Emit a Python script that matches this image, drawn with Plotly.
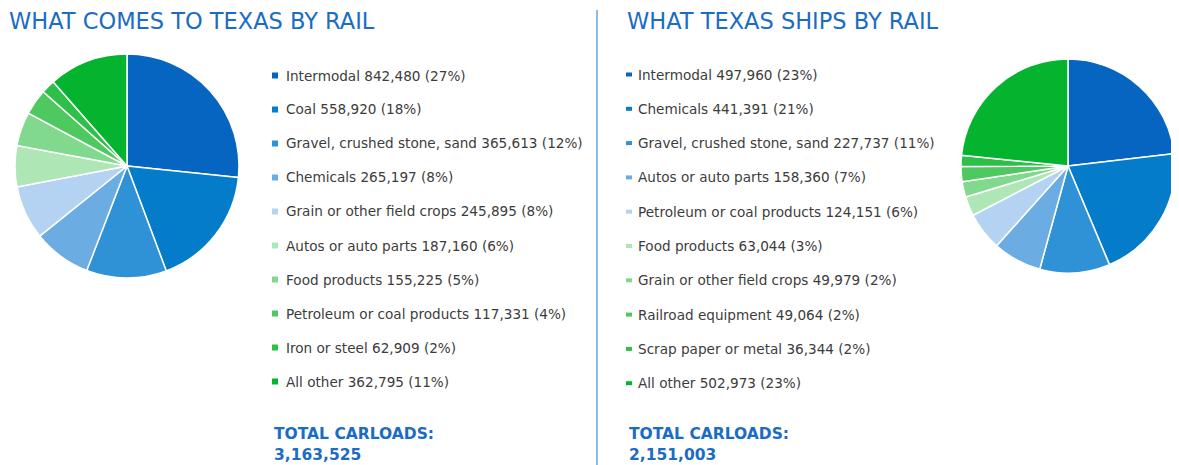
import plotly.graph_objects as go

# page body has an 8px default margin; work in reference pixels and offset
OX, OY = 8, 8
W, H = 1179 - OX, 465 - OY

in_labels = ["Intermodal", "Coal", "Gravel, crushed stone, sand", "Chemicals",
             "Grain or other field crops", "Autos or auto parts", "Food products",
             "Petroleum or coal products", "Iron or steel", "All other"]
in_values = [842480, 558920, 365613, 265197, 245895, 187160, 155225, 117331, 62909, 362795]

out_labels = ["Intermodal", "Chemicals", "Gravel, crushed stone, sand", "Autos or auto parts",
              "Petroleum or coal products", "Food products", "Grain or other field crops",
              "Railroad equipment", "Scrap paper or metal", "All other"]
out_values = [497960, 441391, 227737, 158360, 124151, 63044, 49979, 49064, 36344, 502973]

palette = ["#0565C0", "#047CCA", "#2F92D6", "#6BADE2", "#B4D2F1",
           "#AEE6B6", "#80D98C", "#4DC95F", "#2EBF48", "#05B42E"]

titles = ["WHAT COMES TO TEXAS BY RAIL", "WHAT TEXAS SHIPS BY RAIL"]

BLUE = "#1B6CC4"
TEXT = "#3c3c3c"

fig = go.Figure()

def fx(x):
    return (x - OX) / W

def fy(y):
    return 1 - (y - OY) / H

def px_dom(cx, cy, d):
    return dict(x=[fx(cx - d / 2), fx(cx + d / 2)],
                y=[fy(cy + d / 2), fy(cy - d / 2)])

for labels, values, (cx, cy, d) in [(in_labels, in_values, (127, 166, 224)),
                                     (out_labels, out_values, (1068, 166, 214))]:
    fig.add_trace(go.Pie(labels=labels, values=values, sort=False, direction="clockwise",
                         rotation=0, textinfo="none", hoverinfo="label+value+percent",
                         marker=dict(colors=palette, line=dict(color="white", width=1.5)),
                         domain=px_dom(cx, cy, d), showlegend=False))

annotations = []
shapes = []

def add_text(x, y, text, size, color, bold=False, family="DejaVu Sans"):
    annotations.append(dict(x=fx(x), y=fy(y), xref="paper", yref="paper",
                            xanchor="left", yanchor="middle", showarrow=False,
                            text=f"<b>{text}</b>" if bold else text,
                            font=dict(size=size, color=color, family=family)))

add_text(7, 21, titles[0], 22.5, BLUE)
add_text(625, 21, titles[1], 22.5, BLUE)

for labels, values, mx, tx, y0, step, mh, totx in [
        (in_labels, in_values, 272, 284, 75.5, 34.0, 6, 272),
        (out_labels, out_values, 626, 636, 74.5, 34.3, 4, 627)]:
    total = sum(values)
    for i, (lab, v) in enumerate(zip(labels, values)):
        y = y0 + i * step
        pct = round(v / total * 100)
        add_text(tx, y, f"{lab} {v:,} ({pct}%)", 13.6, TEXT)
        shapes.append(dict(type="rect", xref="paper", yref="paper",
                           x0=fx(mx), x1=fx(mx + 6),
                           y0=fy(y + mh / 2), y1=fy(y - mh / 2),
                           fillcolor=palette[i], line=dict(width=0)))
    add_text(totx, 434, "TOTAL CARLOADS:", 15.5, BLUE, bold=True)
    add_text(totx, 455, f"{total:,}", 15.5, BLUE, bold=True)

shapes.append(dict(type="line", xref="paper", yref="paper",
                   x0=fx(597), x1=fx(597), y0=0, y1=fy(10),
                   line=dict(color="#8DBBE3", width=2)))

fig.update_layout(width=W, height=H, margin=dict(l=0, r=0, t=0, b=0),
                  paper_bgcolor="white", plot_bgcolor="white",
                  annotations=annotations, shapes=shapes)

fig.write_html("out.html")
